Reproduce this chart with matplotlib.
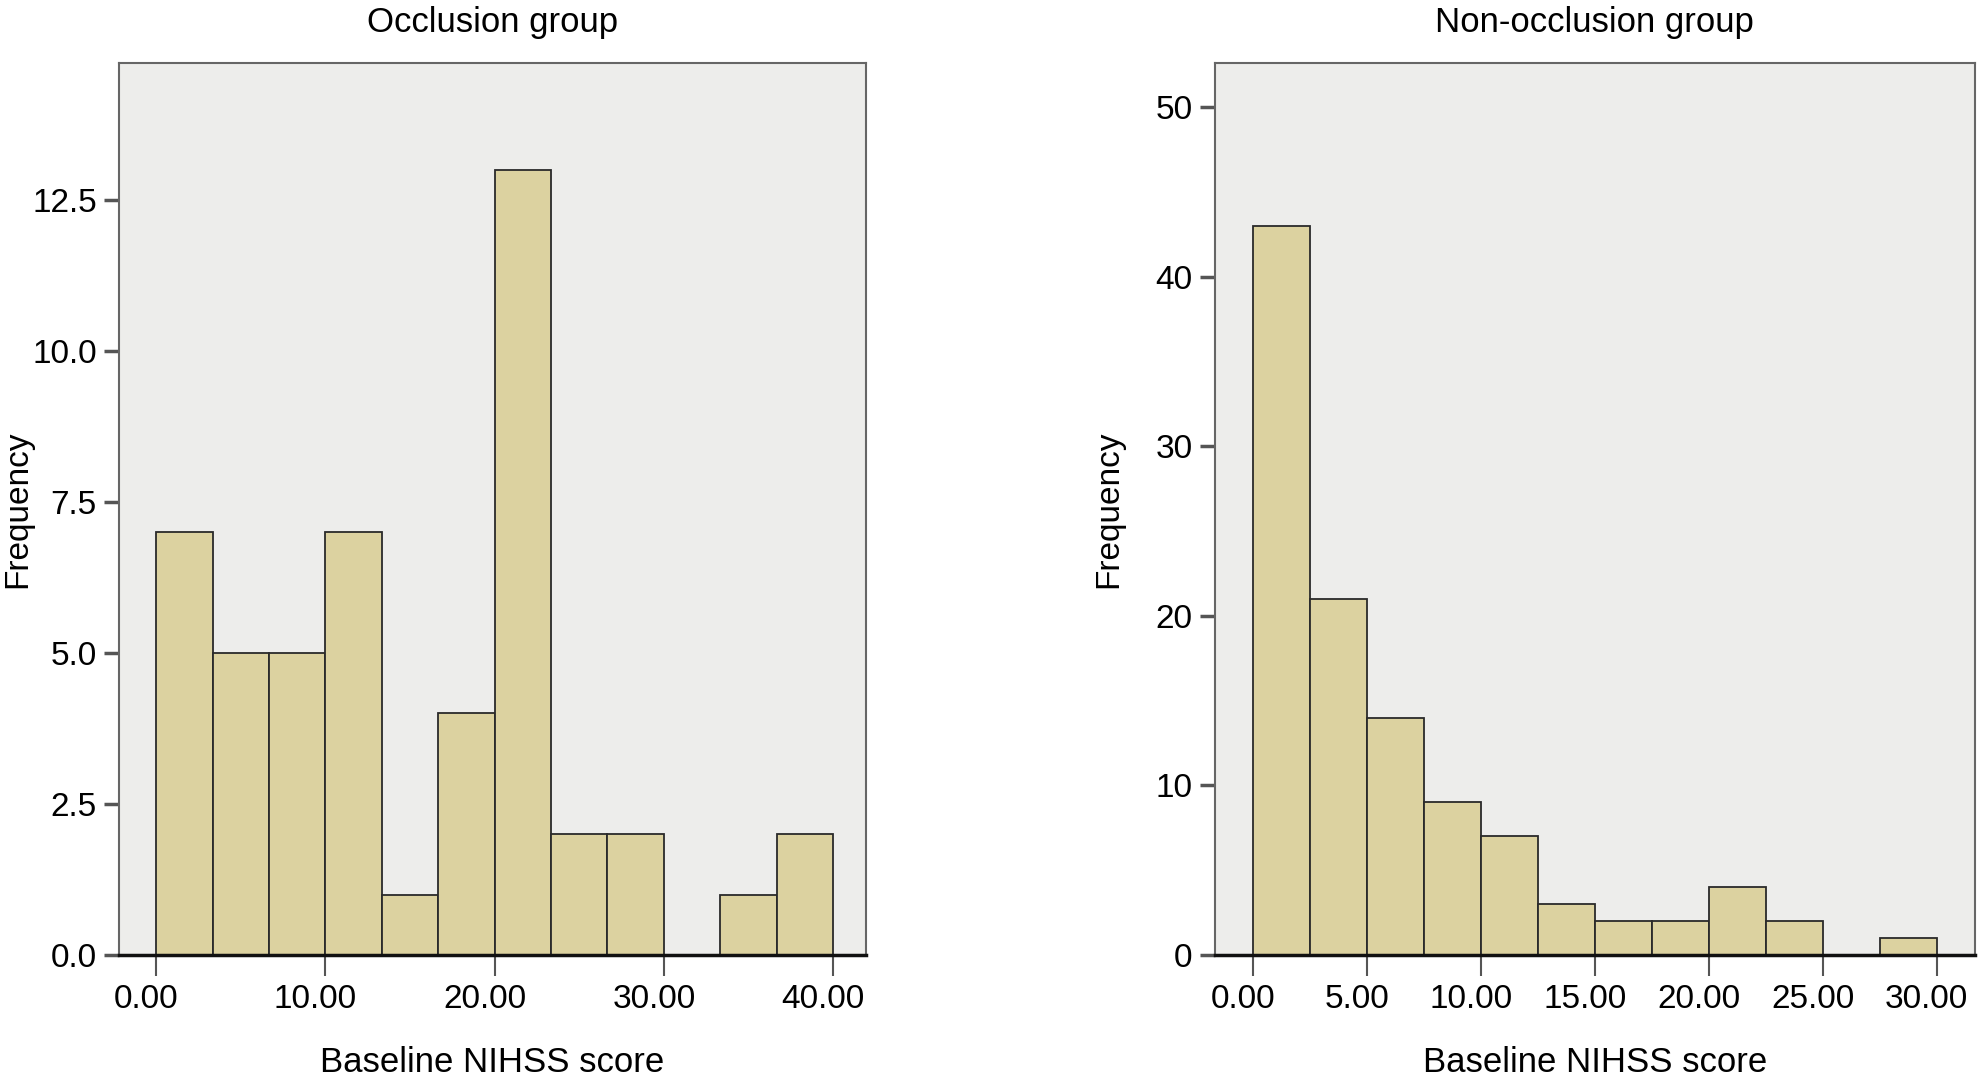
import numpy as np
import matplotlib.pyplot as plt
import matplotlib.transforms as mtransforms

plt.rcParams['font.family'] = ['Liberation Sans', 'DejaVu Sans']

# Occlusion group: 12 bins from 0 to 40
occ_edges = np.linspace(0, 40, 13)
occ_counts = [7, 5, 5, 7, 1, 4, 13, 2, 2, 0, 1, 2]
occ_xticks = [0, 10, 20, 30, 40]
occ_yticks = [0.0, 2.5, 5.0, 7.5, 10.0, 12.5]

# Non-occlusion group: 12 bins from 0 to 30
non_edges = np.linspace(0, 30, 13)
non_counts = [43, 21, 14, 9, 7, 3, 2, 2, 4, 2, 0, 1]
non_xticks = [0, 5, 10, 15, 20, 25, 30]
non_yticks = [0, 10, 20, 30, 40, 50]

BG = "#ededeb"
BAR = "#dcd2a0"
FS = 24

fig = plt.figure(figsize=(19.81, 10.81), dpi=100)
ax1 = fig.add_axes([0.0601, 0.1166, 0.3771, 0.8252])
ax2 = fig.add_axes([0.6133, 0.1166, 0.3836, 0.8252])


def draw_hist(ax, edges, counts, xticks, yticks, yfmt, xlim, ylim, title):
    ax.set_facecolor(BG)
    ax.bar(edges[:-1], counts, width=np.diff(edges), align="edge",
           color=BAR, edgecolor="#2a2a2a", linewidth=1.3, zorder=2)
    ax.set_xlim(*xlim)
    ax.set_ylim(*ylim)
    ax.set_xticks(xticks)
    ax.set_xticklabels([f"{v:.2f}" for v in xticks])
    ax.set_yticks(yticks)
    ax.set_yticklabels([yfmt.format(v) for v in yticks])
    ax.tick_params(axis="x", length=15, width=1.5, color="#555555",
                   labelsize=FS, pad=6)
    ax.tick_params(axis="y", length=11, width=2.5, color="#555555",
                   labelsize=FS, pad=5)
    shift = mtransforms.ScaledTranslation(-10 / 100, 0, fig.dpi_scale_trans)
    for lab in ax.get_xticklabels():
        lab.set_transform(lab.get_transform() + shift)
    for side in ["top", "left", "right"]:
        ax.spines[side].set_color("#666666")
        ax.spines[side].set_linewidth(1.5)
    ax.spines["bottom"].set_color("#111111")
    ax.spines["bottom"].set_linewidth(2.5)
    ax.set_title(title, fontsize=25, pad=22)
    ax.set_xlabel("Baseline NIHSS score", fontsize=25, labelpad=22)
    ax.set_ylabel("Frequency", fontsize=FS)


draw_hist(ax1, occ_edges, occ_counts, occ_xticks, occ_yticks, "{:.1f}",
          (-2.2, 41.95), (0, 14.77), "Occlusion group")
draw_hist(ax2, non_edges, non_counts, non_xticks, non_yticks, "{:d}",
          (-1.67, 31.67), (0, 52.6), "Non-occlusion group")

ax1.yaxis.set_label_coords(-0.115, 0.5)
ax2.yaxis.set_label_coords(-0.12, 0.5)

fig.savefig("out.png", dpi=100)
